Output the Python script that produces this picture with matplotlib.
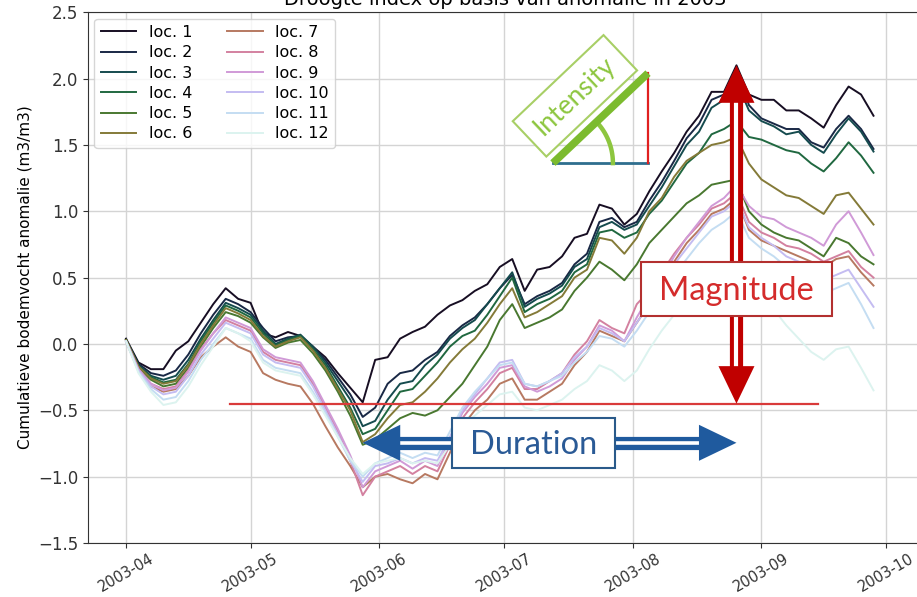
import matplotlib
matplotlib.use("Agg")
import matplotlib.dates as mdates
import matplotlib.pyplot as plt
import numpy as np
import pandas as pd
from matplotlib.patches import Rectangle

# Cumulative soil-moisture anomaly, sampled every 3 days from 1 April 2003
dates = pd.date_range("2003-04-01", periods=61, freq="3D")

loc1 = [0.04, -0.14, -0.19, -0.19, -0.05, 0.02, 0.16, 0.30, 0.42, 0.34,
        0.31, 0.08, 0.05, 0.09, 0.06, -0.02, -0.10, -0.22, -0.33, -0.44,
        -0.12, -0.10, 0.04, 0.09, 0.13, 0.22, 0.29, 0.33, 0.40, 0.45,
        0.58, 0.64, 0.40, 0.56, 0.58, 0.66, 0.80, 0.83, 1.05, 1.02,
        0.90, 0.98, 1.15, 1.30, 1.44, 1.60, 1.72, 1.90, 1.90, 2.10,
        1.88, 1.84, 1.84, 1.76, 1.76, 1.70, 1.63, 1.80, 1.94, 1.88,
        1.72]
loc2 = [0.03, -0.15, -0.22, -0.24, -0.20, -0.08, 0.08, 0.22, 0.34, 0.30,
        0.24, 0.12, 0.02, 0.05, 0.06, -0.02, -0.12, -0.25, -0.38, -0.55,
        -0.48, -0.30, -0.22, -0.20, -0.12, -0.06, 0.06, 0.14, 0.20, 0.30,
        0.42, 0.52, 0.30, 0.36, 0.40, 0.46, 0.60, 0.68, 0.92, 0.95,
        0.88, 0.92, 1.08, 1.22, 1.38, 1.55, 1.66, 1.84, 1.88, 2.08,
        1.80, 1.70, 1.66, 1.62, 1.62, 1.52, 1.48, 1.62, 1.72, 1.62,
        1.47]
loc3 = [0.03, -0.16, -0.24, -0.27, -0.24, -0.12, 0.04, 0.18, 0.31, 0.27,
        0.22, 0.10, 0.00, 0.04, 0.07, -0.02, -0.14, -0.28, -0.42, -0.62,
        -0.58, -0.42, -0.30, -0.28, -0.16, -0.08, 0.04, 0.12, 0.18, 0.30,
        0.42, 0.54, 0.28, 0.34, 0.38, 0.44, 0.58, 0.64, 0.88, 0.92,
        0.86, 0.90, 1.04, 1.18, 1.34, 1.50, 1.60, 1.78, 1.84, 1.98,
        1.76, 1.68, 1.64, 1.58, 1.60, 1.50, 1.44, 1.58, 1.70, 1.60,
        1.45]
loc4 = [0.03, -0.17, -0.25, -0.29, -0.27, -0.15, 0.02, 0.16, 0.29, 0.25,
        0.20, 0.08, -0.01, 0.03, 0.06, -0.04, -0.16, -0.32, -0.48, -0.68,
        -0.64, -0.50, -0.36, -0.34, -0.24, -0.14, -0.02, 0.06, 0.10, 0.22,
        0.36, 0.50, 0.24, 0.30, 0.34, 0.40, 0.54, 0.60, 0.84, 0.86,
        0.80, 0.84, 0.98, 1.08, 1.22, 1.36, 1.44, 1.58, 1.62, 1.68,
        1.56, 1.54, 1.50, 1.46, 1.44, 1.36, 1.30, 1.40, 1.52, 1.42,
        1.29]
loc5 = [0.03, -0.18, -0.27, -0.32, -0.30, -0.18, -0.02, 0.12, 0.24, 0.21,
        0.16, 0.05, -0.03, 0.01, 0.03, -0.07, -0.20, -0.36, -0.54, -0.76,
        -0.72, -0.64, -0.56, -0.52, -0.54, -0.50, -0.40, -0.30, -0.16, -0.02,
        0.18, 0.30, 0.12, 0.16, 0.20, 0.26, 0.40, 0.50, 0.62, 0.56,
        0.48, 0.60, 0.76, 0.86, 0.96, 1.06, 1.12, 1.20, 1.22, 1.24,
        1.00, 0.90, 0.84, 0.80, 0.78, 0.72, 0.66, 0.80, 0.76, 0.66,
        0.60]
loc6 = [0.03, -0.17, -0.26, -0.30, -0.28, -0.16, 0.00, 0.14, 0.27, 0.23,
        0.18, 0.06, -0.02, 0.02, 0.05, -0.05, -0.18, -0.34, -0.50, -0.74,
        -0.68, -0.56, -0.46, -0.44, -0.36, -0.26, -0.14, -0.04, 0.04, 0.16,
        0.30, 0.42, 0.20, 0.24, 0.30, 0.36, 0.50, 0.56, 0.80, 0.78,
        0.68, 0.80, 1.00, 1.10, 1.26, 1.38, 1.44, 1.50, 1.52, 1.56,
        1.36, 1.24, 1.18, 1.12, 1.10, 1.04, 0.98, 1.12, 1.14, 1.02,
        0.90]
loc7 = [0.02, -0.20, -0.32, -0.36, -0.34, -0.24, -0.10, -0.02, 0.05, -0.02,
        -0.06, -0.22, -0.27, -0.30, -0.32, -0.45, -0.62, -0.78, -0.92, -1.08,
        -1.00, -0.98, -1.02, -1.05, -0.98, -1.02, -0.82, -0.62, -0.50, -0.42,
        -0.30, -0.26, -0.42, -0.42, -0.36, -0.30, -0.16, -0.06, 0.10, 0.06,
        0.02, 0.16, 0.30, 0.46, 0.62, 0.76, 0.86, 0.98, 1.02, 1.10,
        0.86, 0.78, 0.74, 0.70, 0.66, 0.62, 0.58, 0.64, 0.66, 0.54,
        0.44]
loc8 = [0.02, -0.19, -0.30, -0.34, -0.32, -0.20, -0.04, 0.08, 0.18, 0.14,
        0.10, -0.06, -0.12, -0.14, -0.16, -0.30, -0.48, -0.66, -0.88, -1.14,
        -1.00, -0.96, -0.92, -0.98, -0.92, -0.96, -0.76, -0.56, -0.44, -0.34,
        -0.22, -0.18, -0.34, -0.34, -0.28, -0.22, -0.08, 0.02, 0.18, 0.12,
        0.08, 0.30, 0.40, 0.54, 0.68, 0.80, 0.90, 1.02, 1.06, 1.14,
        0.92, 0.84, 0.80, 0.74, 0.72, 0.68, 0.62, 0.66, 0.70, 0.58,
        0.50]
loc9 = [0.02, -0.19, -0.30, -0.35, -0.33, -0.21, -0.05, 0.08, 0.20, 0.16,
        0.12, -0.04, -0.10, -0.12, -0.14, -0.28, -0.46, -0.64, -0.84, -1.08,
        -0.96, -0.92, -0.88, -0.94, -0.88, -0.92, -0.72, -0.52, -0.40, -0.30,
        -0.18, -0.16, -0.32, -0.36, -0.32, -0.26, -0.12, -0.02, 0.14, 0.10,
        0.02, 0.20, 0.36, 0.50, 0.66, 0.80, 0.92, 1.04, 1.10, 1.20,
        1.04, 0.96, 0.94, 0.88, 0.84, 0.80, 0.74, 0.90, 1.00, 0.84,
        0.67]
loc10 = [0.02, -0.20, -0.32, -0.38, -0.36, -0.24, -0.08, 0.04, 0.16, 0.12,
         0.08, -0.08, -0.14, -0.16, -0.18, -0.32, -0.50, -0.68, -0.88, -1.04,
         -0.92, -0.90, -0.86, -0.90, -0.86, -0.88, -0.70, -0.50, -0.38, -0.26,
         -0.14, -0.12, -0.30, -0.32, -0.28, -0.22, -0.10, -0.02, 0.12, 0.08,
         0.02, 0.16, 0.30, 0.44, 0.60, 0.72, 0.84, 0.96, 1.00, 1.08,
         0.88, 0.80, 0.74, 0.66, 0.62, 0.54, 0.48, 0.52, 0.56, 0.42,
         0.28]
loc11 = [0.02, -0.21, -0.34, -0.42, -0.40, -0.28, -0.12, 0.00, 0.12, 0.08,
         0.04, -0.12, -0.18, -0.20, -0.22, -0.36, -0.52, -0.70, -0.88, -1.00,
         -0.90, -0.86, -0.82, -0.86, -0.82, -0.84, -0.66, -0.48, -0.36, -0.26,
         -0.16, -0.14, -0.30, -0.32, -0.28, -0.24, -0.14, -0.06, 0.06, 0.04,
         -0.02, 0.10, 0.24, 0.38, 0.52, 0.64, 0.76, 0.86, 0.92, 1.00,
         0.80, 0.72, 0.66, 0.58, 0.54, 0.46, 0.38, 0.42, 0.46, 0.30,
         0.12]
loc12 = [0.02, -0.22, -0.36, -0.46, -0.44, -0.32, -0.16, -0.02, 0.12, 0.08,
         0.02, -0.14, -0.20, -0.22, -0.24, -0.38, -0.54, -0.70, -0.86, -0.98,
         -0.90, -0.88, -0.86, -0.90, -0.88, -0.90, -0.76, -0.62, -0.54, -0.46,
         -0.38, -0.36, -0.48, -0.50, -0.46, -0.42, -0.34, -0.28, -0.16, -0.20,
         -0.28, -0.20, -0.04, 0.10, 0.22, 0.36, 0.46, 0.56, 0.58, 0.62,
         0.40, 0.30, 0.26, 0.14, 0.04, -0.06, -0.12, -0.04, -0.02, -0.18,
         -0.35]

series = [loc1, loc2, loc3, loc4, loc5, loc6, loc7, loc8, loc9, loc10, loc11, loc12]
labels = [f"loc. {i}" for i in range(1, 13)]

threshold = -0.45  # drought threshold drawn as the red line

RED = "#c00000"
BLUE = "#1f5a9e"
GREEN = "#8dc63f"

colors = plt.cm.cubehelix(np.linspace(0, 1, 14)[1:-1])

fig = plt.figure(figsize=(9.17, 5.97), dpi=100)
ax = fig.add_axes([0.096, 0.0905, 0.91, 0.889])

for vals, lab, col in zip(series, labels, colors):
    ax.plot(dates, vals, color=col, lw=1.4, label=lab)

start = mdates.date2num(dates[0])
ax.set_xlim(start - 9.15, start + 191.8)
ax.set_ylim(-1.5, 2.5)
ax.set_yticks(np.arange(-1.5, 2.51, 0.5))
ax.xaxis.set_major_locator(mdates.MonthLocator())
ax.xaxis.set_major_formatter(mdates.DateFormatter("%Y-%m"))
plt.setp(ax.get_xticklabels(), rotation=30, ha="center")
ax.tick_params(axis="y", labelsize=12, colors="#333333")
ax.tick_params(axis="x", labelsize=10.5, pad=2, colors="#333333")
ax.grid(True, color="#d4d4d4", lw=1)
for sp in ax.spines.values():
    sp.set_color("#333333")

ax.set_ylabel("Cumulatieve bodemvocht anomalie (m3/m3)", fontsize=11)
ax.set_title("Droogte index op basis van anomalie in 2003", fontsize=14, pad=5)
ax.legend(loc="upper left", ncol=2, fontsize=11.5, handlelength=2.2,
          labelspacing=0.33, columnspacing=2.2, borderaxespad=0.4)


def head(tip, tail, color):
    ax.annotate("", xy=tip, xytext=tail, zorder=8,
                arrowprops=dict(arrowstyle="-|>,head_length=1.0,head_width=0.48",
                                mutation_scale=27, color=color, lw=0,
                                shrinkA=0, shrinkB=0))


def shaft(xs, ys, color, outer, inner):
    ax.plot(xs, ys, color=color, lw=outer, solid_capstyle="butt", zorder=6)
    ax.plot(xs, ys, color="white", lw=inner, solid_capstyle="butt", zorder=7)


# threshold line
ax.plot([start + 25, start + 166.6], [threshold, threshold], color="#d93a3a",
        lw=1.6, zorder=5)

# magnitude: from threshold up to the highest peak of loc. 1
i_peak = int(np.argmax(loc1))
x_peak = mdates.date2num(dates[i_peak])
y_peak = loc1[i_peak]
shaft([x_peak, x_peak], [threshold + 0.27, y_peak - 0.27], RED, 9.5, 3)
head((x_peak, y_peak), (x_peak, y_peak - 0.3), RED)
head((x_peak, threshold), (x_peak, threshold + 0.3), RED)
ax.add_patch(Rectangle((x_peak - 23, 0.211), 46, 0.407, fc="white",
                       ec="#b3302f", lw=1.5, zorder=9))
ax.text(x_peak, 0.40, "Magnitude", ha="center", va="center", fontsize=23.5,
        family="Lato", color="#d42b2b", zorder=10)

# duration: from the deepest point of loc. 1 to its peak
i_low = int(np.argmin(loc1))
x_low = mdates.date2num(dates[i_low])
y_dur = -0.745
shaft([x_low + 8.5, x_peak - 8.5], [y_dur, y_dur], BLUE, 9.5, 2.6)
head((x_low, y_dur), (x_low + 9, y_dur), BLUE)
head((x_peak, y_dur), (x_peak - 9, y_dur), BLUE)
ax.add_patch(Rectangle((start + 78.5, -0.934), 39.2, 0.377, fc="white",
                       ec="#2a5a8a", lw=1.5, zorder=9))
ax.text(start + 98.1, -0.76, "Duration", ha="center", va="center",
        fontsize=23.5, family="Lato", color="#2a5a96", zorder=10)

# intensity: slope triangle with angle mark
cx, cy = start + 102.8, 1.363
tx, ty = start + 125.7, 2.041
ax.plot([cx, tx], [cy, cy], color="#2e6e8e", lw=2, zorder=6)
ax.plot([tx, tx], [cy, ty], color="#e02020", lw=1.6, zorder=6)
t = np.linspace(0, np.deg2rad(43), 30)
ax.plot(cx + 60 / 4.153 * np.cos(t), cy + 60 / 132.75 * np.sin(t),
        color=GREEN, lw=3.2, zorder=7)
ax.text(start + 108.1, 1.87, "Intensity", rotation=43.5, rotation_mode="anchor",
        ha="center", va="center", fontsize=19, family="Lato", color=GREEN,
        zorder=8, bbox=dict(boxstyle="square,pad=0.45", fc="white",
                            ec="#a8cf66", lw=1.5))
ax.plot([cx, tx], [cy, ty], color="#7cbb2e", lw=5.5, solid_capstyle="butt",
        zorder=9)

fig.savefig("out.png", dpi=100)
